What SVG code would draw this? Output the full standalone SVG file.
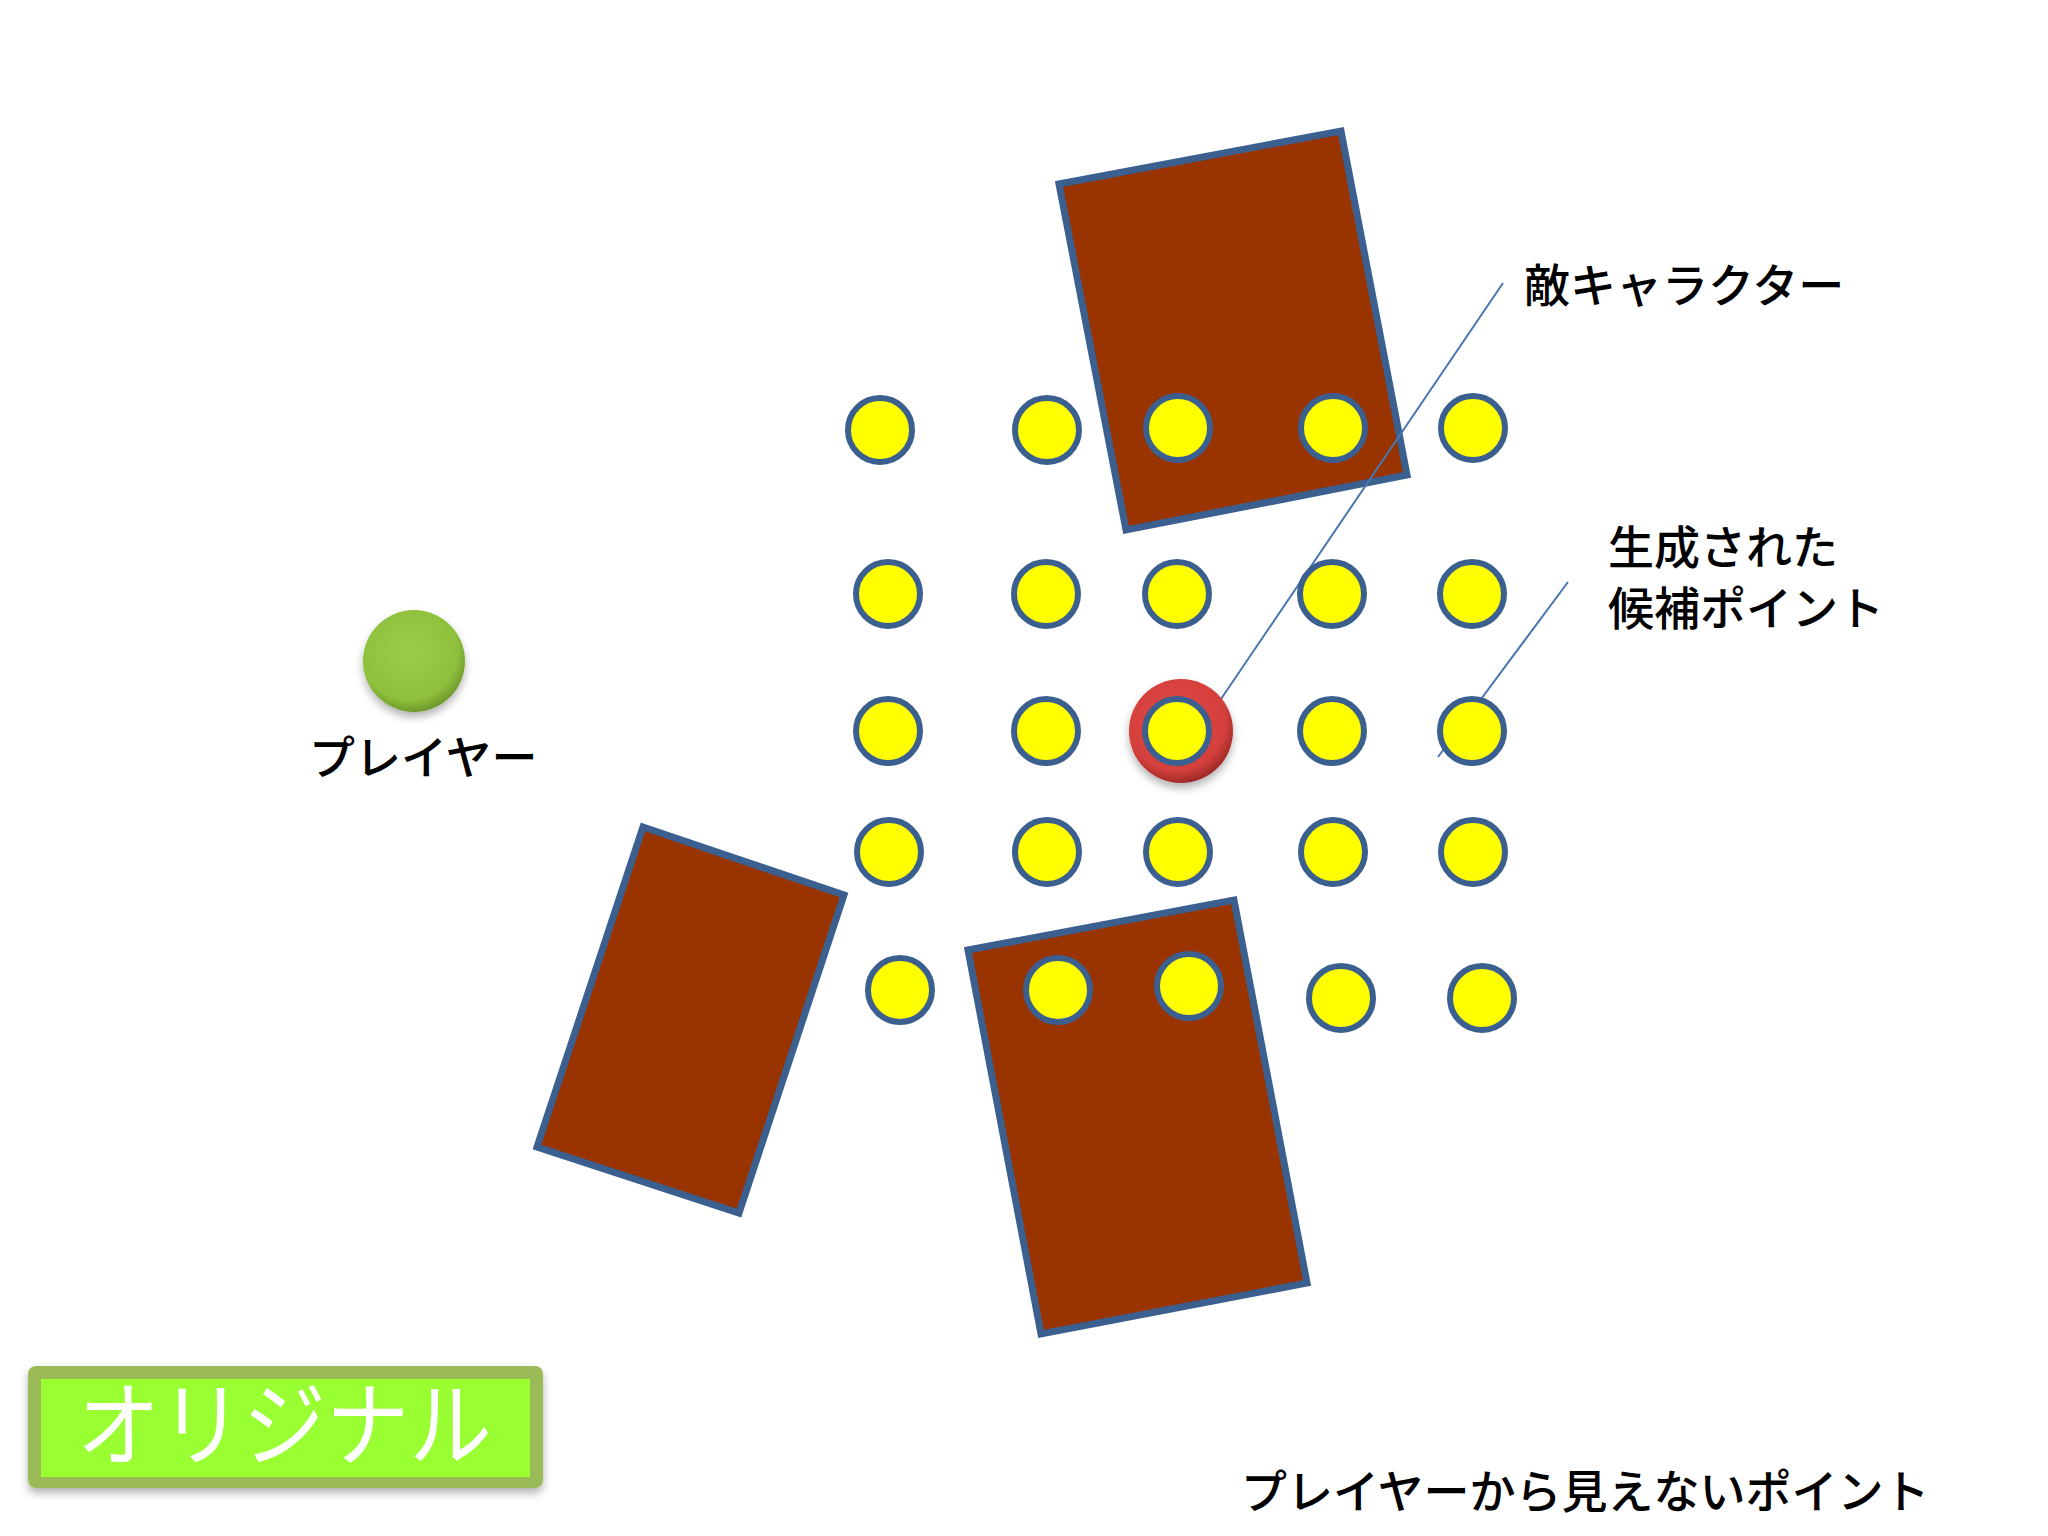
<svg xmlns="http://www.w3.org/2000/svg" width="2048" height="1536" viewBox="0 0 2048 1536">
<style>
.wall{fill:#993300;stroke:#3b6090;stroke-width:7;stroke-linejoin:miter}
.pt{fill:#ffff00;stroke:#3b6090;stroke-width:6}
.lbl{font-family:"Noto Sans CJK JP","Noto Sans",sans-serif;font-size:46px;font-weight:500;fill:#000}
.conn{stroke:#4a76b0;stroke-width:2;fill:none}
</style>
<defs>
<radialGradient id="gGreen" cx="0.45" cy="0.4" r="0.6">
<stop offset="0" stop-color="#9ccd4a"/>
<stop offset="0.8" stop-color="#8fc03c"/>
<stop offset="1" stop-color="#6f9a2c"/>
</radialGradient>
<radialGradient id="gRed" cx="0.45" cy="0.4" r="0.6">
<stop offset="0" stop-color="#e04a46"/>
<stop offset="0.8" stop-color="#d43f3c"/>
<stop offset="1" stop-color="#a02a28"/>
</radialGradient>
<filter id="sh" x="-20%" y="-20%" width="140%" height="150%">
<feDropShadow dx="0" dy="5" stdDeviation="4" flood-color="#000" flood-opacity="0.3"/>
</filter>
</defs>
<rect width="2048" height="1536" fill="#ffffff"/>

<g id="walls">
<polygon id="wall-top" class="wall" points="1059,184 1341,131 1407,475 1126,530"/>
<polygon id="wall-left" class="wall" points="643,827 844,895 739,1213 537,1147"/>
<polygon id="wall-bottom" class="wall" points="968,950 1234,900 1307,1283 1041,1334"/>
</g>

<g id="connectors">
<line class="conn" x1="1221" y1="699" x2="1503" y2="283"/>
<line class="conn" x1="1568" y1="582" x2="1438" y2="757"/>
</g>

<g id="player">
<circle cx="414" cy="661" r="51" fill="url(#gGreen)" filter="url(#sh)"/>
<text class="lbl" x="309" y="774">プレイヤー</text>
</g>

<g id="enemy">
<circle cx="1181" cy="731" r="52" fill="url(#gRed)" filter="url(#sh)"/>
</g>

<g id="points">
<circle class="pt" cx="880" cy="430" r="32"/>
<circle class="pt" cx="1047" cy="430" r="32"/>
<circle class="pt" cx="1178" cy="428" r="32"/>
<circle class="pt" cx="1333" cy="428" r="32"/>
<circle class="pt" cx="1473" cy="428" r="32"/>

<circle class="pt" cx="888" cy="594" r="32"/>
<circle class="pt" cx="1046" cy="594" r="32"/>
<circle class="pt" cx="1177" cy="594" r="32"/>
<circle class="pt" cx="1332" cy="594" r="32"/>
<circle class="pt" cx="1472" cy="594" r="32"/>

<circle class="pt" cx="888" cy="731" r="32"/>
<circle class="pt" cx="1046" cy="731" r="32"/>
<circle class="pt" cx="1177" cy="731" r="32"/>
<circle class="pt" cx="1332" cy="731" r="32"/>
<circle class="pt" cx="1472" cy="731" r="32"/>

<circle class="pt" cx="889" cy="852" r="32"/>
<circle class="pt" cx="1047" cy="852" r="32"/>
<circle class="pt" cx="1178" cy="852" r="32"/>
<circle class="pt" cx="1333" cy="852" r="32"/>
<circle class="pt" cx="1473" cy="852" r="32"/>

<circle class="pt" cx="900" cy="990" r="32"/>
<circle class="pt" cx="1058" cy="990" r="32"/>
<circle class="pt" cx="1189" cy="986" r="32"/>
<circle class="pt" cx="1341" cy="998" r="32"/>
<circle class="pt" cx="1482" cy="998" r="32"/>
</g>

<g id="labels">
<text class="lbl" x="1524" y="302">敵キャラクター</text>
<text class="lbl" x="1608" y="564">生成された</text>
<text class="lbl" x="1608" y="625">候補ポイント</text>
<text class="lbl" x="1241" y="1508">プレイヤーから見えないポイント</text>
</g>

<g id="badge">
<rect x="28" y="1366" width="515" height="122" rx="8" fill="#9bbb59" filter="url(#sh)"/>
<rect x="41" y="1379" width="489" height="98" fill="#99ff33"/>
<text x="0" y="0" transform="translate(77,1459) scale(1,1.12)" font-family="'Noto Sans CJK JP','Noto Sans',sans-serif" font-size="83" fill="#ffffff">オリジナル</text>
</g>
</svg>
